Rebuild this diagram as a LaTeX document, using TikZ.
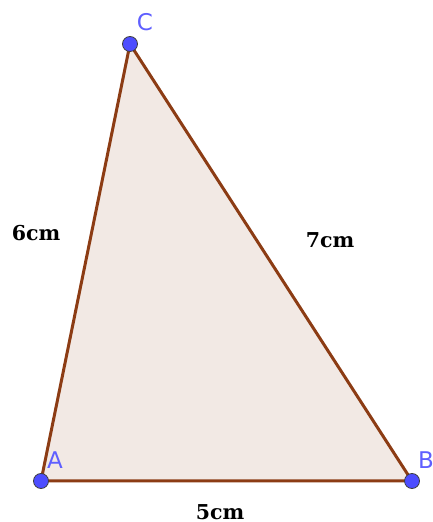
\documentclass[tikz,border=0pt]{standalone}
\usepackage{fontspec}
\newfontfamily\lblfont{DejaVu Sans}
\newfontfamily\lenfont{DejaVu Serif}
\definecolor{edgebrown}{RGB}{140,60,20}
\definecolor{fillbeige}{RGB}{242,233,228}
\definecolor{ptblue}{RGB}{77,77,255}
\definecolor{lblblue}{RGB}{95,95,255}
\tikzset{
  edge/.style={draw=edgebrown, line width=3pt, line join=round, line cap=round},
  pt/.style={circle, fill=ptblue, draw=black!75, line width=0.8pt, minimum size=15pt, inner sep=0pt},
  vlabel/.style={text=lblblue, font=\lblfont\fontsize{23}{23}\selectfont, inner sep=0pt},
  lenlabel/.style={text=black, font=\lenfont\bfseries\fontsize{20.5}{20.5}\selectfont, inner sep=0pt}
}
\begin{document}
\begin{tikzpicture}[x=1pt,y=1pt]
\useasboundingbox (0,0) rectangle (432,522);
\coordinate (A) at (41,41);
\coordinate (B) at (412,41);
\coordinate (C) at (130,478);
\fill[fillbeige] (A) -- (B) -- (C) -- cycle;
\draw[edge] (A) -- (B) -- (C) -- cycle;
\node[pt] (pA) at (A) {};
\node[pt] (pB) at (B) {};
\node[pt] (pC) at (C) {};
\node[vlabel] (lA) at (55,62) {A};
\node[vlabel] (lB) at (426,62) {B};
\node[vlabel] (lC) at (145,500) {C};
\node[lenlabel] (l6) at (36,289) {6cm};
\node[lenlabel] (l7) at (330,282) {7cm};
\node[lenlabel] (l5) at (220,10) {5cm};
\end{tikzpicture}
\end{document}
